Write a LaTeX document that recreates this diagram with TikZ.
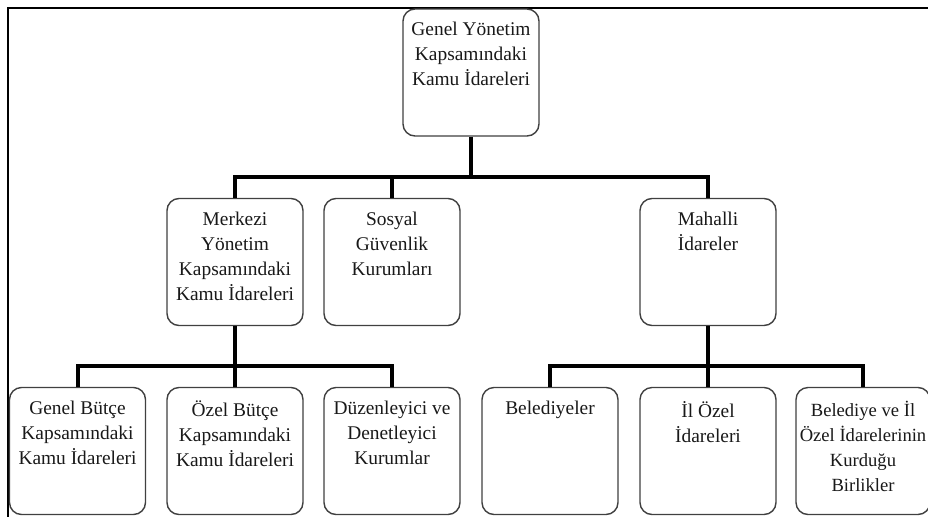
\documentclass[tikz,border=0pt]{standalone}
\usepackage{fontspec}
\setmainfont{Liberation Serif}
\begin{document}
\begin{tikzpicture}[x=1pt,y=-1pt,
  unit/.style={draw=black!75, line width=1.4pt, rounded corners=12pt,
    minimum width=136pt, minimum height=127pt, inner sep=0pt, fill=white},
  lab/.style={anchor=north, align=center, inner sep=0pt, text=black!90,
    font=\fontsize{19.4}{25}\selectfont, yshift=-14pt},
  conn/.style={line width=4pt, line join=miter, line cap=butt},
  frameline/.style={line width=2.3pt}]
\useasboundingbox (0,0) rectangle (928,517);

% outer frame (top and left edges)
\draw[frameline] (928,8) -- (8,8) -- (8,517);

% level 0
\node[unit, label={[lab]north:{Genel Yönetim\\Kapsamındaki\\Kamu İdareleri}}] (gy) at (471,72.5) {};

% level 1
\node[unit, label={[lab]north:{Merkezi\\Yönetim\\Kapsamındaki\\Kamu İdareleri}}] (mk) at (235,262) {};
\node[unit, label={[lab]north:{Sosyal\\Güvenlik\\Kurumları}}] (sg) at (392,262) {};
\node[unit, label={[lab]north:{Mahalli\\İdareler}}] (mh) at (708,262) {};

% level 2
\node[unit, label={[lab]north:{Genel Bütçe\\Kapsamındaki\\Kamu İdareleri}}] (gb) at (77.5,451) {};
\node[unit, label={[lab]north:{Özel Bütçe\\Kapsamındaki\\Kamu İdareleri}}] (ob) at (235,451) {};
\node[unit, label={[lab]north:{Düzenleyici ve\\Denetleyici\\Kurumlar}}] (dd) at (392,451) {};
\node[unit, label={[lab]north:{Belediyeler}}] (bl) at (550,451) {};
\node[unit, label={[lab]north:{İl Özel\\İdareleri}}] (io) at (708,451) {};
\node[unit, minimum width=134pt,
  label={[lab, font=\fontsize{18.6}{25}\selectfont]north:{Belediye ve İl\\Özel İdarelerinin\\Kurduğu\\Birlikler}}] (bk) at (863,451) {};

% junction points of the tree
\coordinate (j1) at (471,177);
\coordinate (j2) at (235,366);
\coordinate (j3) at (708,366);

% connectors
\draw[conn] (gy.south) -- (j1);
\draw[conn] (mk.north) -- (mk.north |- j1) -- (mh.north |- j1) -- (mh.north);
\draw[conn] (sg.north) -- (sg.north |- j1);

\draw[conn] (mk.south) -- (j2);
\draw[conn] (gb.north) -- (gb.north |- j2) -- (dd.north |- j2) -- (dd.north);
\draw[conn] (ob.north) -- (ob.north |- j2);

\draw[conn] (mh.south) -- (j3);
\draw[conn] (bl.north) -- (bl.north |- j3) -- (bk.north |- j3) -- (bk.north);
\draw[conn] (io.north) -- (io.north |- j3);
\end{tikzpicture}
\end{document}
